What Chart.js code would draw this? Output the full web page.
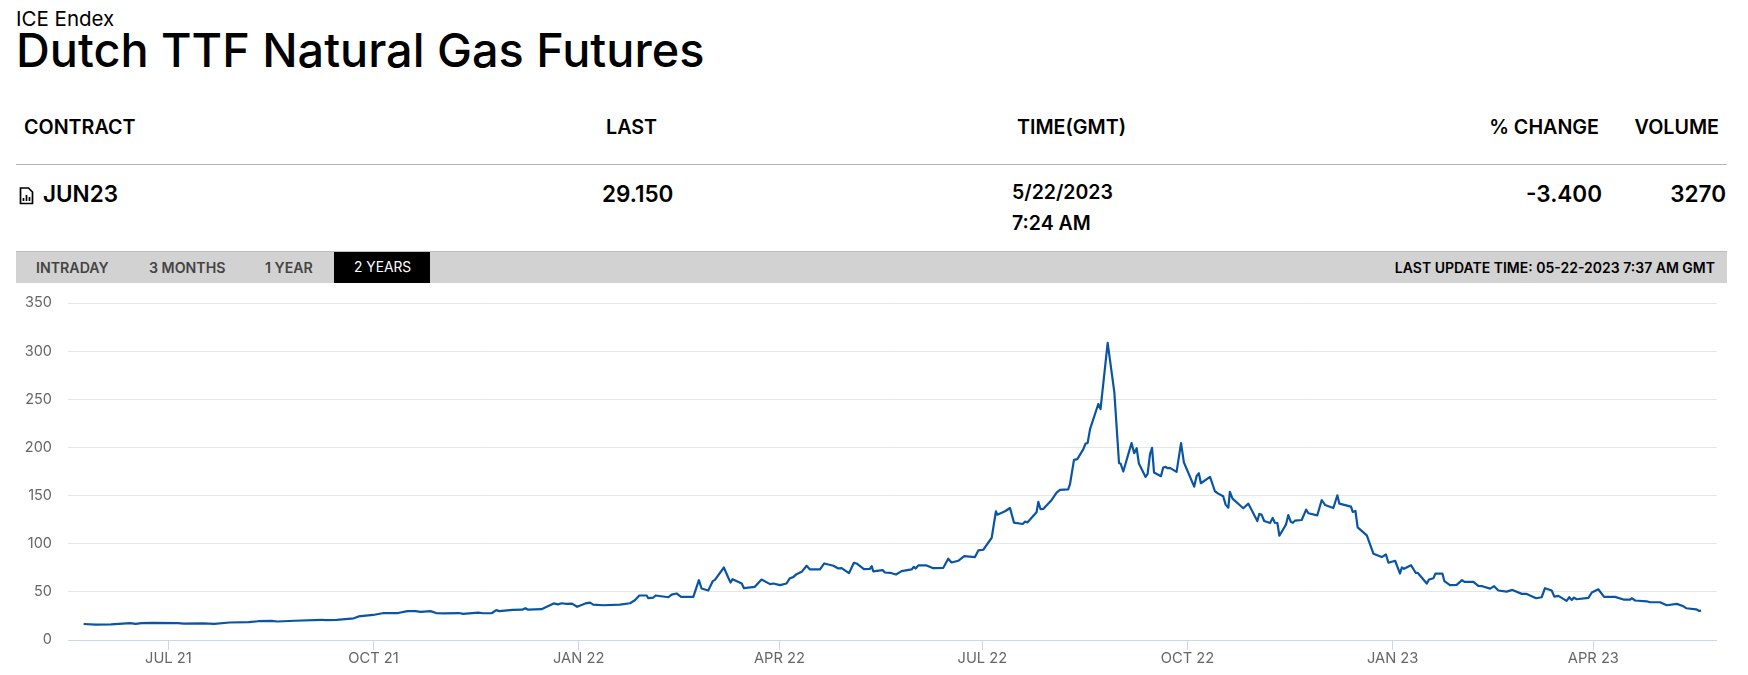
<!DOCTYPE html>
<html>
<head>
<meta charset="utf-8">
<title>Dutch TTF Natural Gas Futures</title>
<script src="https://cdn.jsdelivr.net/npm/chart.js@4"></script>
<style>
    html, body { margin: 0; padding: 0; background: #fff; width: 1748px; height: 675px; overflow: hidden; }
    body { font-family: Inter, "Liberation Sans", sans-serif; color: #000; position: relative; }
    .t { position: absolute; line-height: 1; white-space: nowrap; }
    .head { font-size: 19.7px; font-weight: 600; top: 118px; }
    .cell { font-size: 22.5px; font-weight: 600; top: 183px; }
    .date { font-size: 19.5px; font-weight: 600; }
    .tab { font-size: 14.2px; font-weight: 600; top: 260.500px; color: #444; }
    #rule { position: absolute; left: 16px; top: 164px; width: 1711px; height: 1px; background: #b4b4b4; }
    #bar { position: absolute; left: 16px; top: 251px; width: 1711px; height: 32px; background: #d2d2d2; border-top: 1px solid #bdbdbd; box-sizing: border-box; }
    #active { position: absolute; left: 334px; top: 252px; width: 96px; height: 31px; background: #000; }
    #icon { position: absolute; left: 19px; top: 187px; }
    #chart { position: absolute; left: 0; top: 284px; }
</style>
</head>
<body>
<div class="t" style="left:16px;top:9px;font-size:20.500px;">ICE Endex</div>
<div class="t" style="left:16px;top:27px;font-size:46.800px;font-weight:500;">Dutch TTF Natural Gas Futures</div>

<div class="t head" style="left:24px;">CONTRACT</div>
<div class="t head" style="left:606px;">LAST</div>
<div class="t head" style="left:1017px;">TIME(GMT)</div>
<div class="t head" style="right:149px;">% CHANGE</div>
<div class="t head" style="right:29px;">VOLUME</div>
<div id="rule"></div>

<svg id="icon" width="15" height="18" viewBox="0 0 15 18" fill="none" stroke="#000" stroke-width="1.7">
    <path d="M1.5 1h8l4 4v11.500h-12z"/>
    <path d="M4.500 14v-3M7.500 14v-6M10.500 14v-4"/>
</svg>
<div class="t cell" style="left:43px;">JUN23</div>
<div class="t cell" style="left:602px;">29.150</div>
<div class="t date" style="left:1012px;top:183px;">5/22/2023</div>
<div class="t date" style="left:1012px;top:214px;">7:24 AM</div>
<div class="t cell" style="right:146px;">-3.400</div>
<div class="t cell" style="right:22px;">3270</div>

<div id="bar"></div>
<div id="active"></div>
<div class="t tab" style="left:36px;">INTRADAY</div>
<div class="t tab" style="left:149px;">3 MONTHS</div>
<div class="t tab" style="left:265px;">1 YEAR</div>
<div class="t tab" style="left:354px;color:#fff;font-weight:400;font-size:13.800px;">2 YEARS</div>
<div class="t tab" style="right:33px;color:#000;font-size:14px;">LAST UPDATE TIME: 05-22-2023 7:37 AM GMT</div>

<canvas id="chart" width="1748" height="391"></canvas>

<script>
// x values are days counted from 17 May 2021, the left end of the axis
const days = [
    7, 12.4, 19.3, 22.7, 27.8, 30.4, 33, 38.1, 49.3, 51.9, 60.4, 65.6, 72.5, 81, 85.3, 91.3, 93.9, 101.6, 113.6, 115.4,
    120.5, 128.2, 130.3, 136.8, 141.6, 148, 152.2, 155.7, 158.3, 162.5, 165.1, 168.6, 175.4, 177.1, 184, 186, 190, 192, 193.4, 199.4,
    203.7, 205.1, 206.3, 212.3, 217.8, 219.7, 221.4, 223.5, 226, 228.3, 232, 234.1, 235.5, 240, 247.5, 252, 254.2, 256.2, 259.5, 260.2,
    262.5, 263.5, 269.2, 270.7, 272.9, 274.9, 280.4, 282.9, 284.1, 287.1, 289.1, 290.1, 294.1, 296.1, 297.1, 298, 302.1, 303.1, 308, 311,
    314.8, 316.3, 319.3, 322.2, 323.7, 325.2, 326.7, 329, 331.2, 332.7, 337.2, 339.1, 343.2, 345.4, 346.9, 350.2, 352.4, 353.6, 356.9, 359.6,
    360.4, 361.1, 365.3, 366.3, 368.6, 371.3, 373.8, 378.3, 379.3, 380.1, 381.3, 385, 388, 392.5, 394.7, 396.2, 399.2, 401.9, 406.7, 408.2,
    410.4, 414.2, 416.1, 416.7, 420.2, 422.4, 424.2, 428.1, 429.1, 430.3, 434.3, 435.1, 436.1, 437.3, 441.1, 443.3, 444.8, 448.5, 449.3, 451.1,
    452.6, 455.3, 456.3, 457.2, 458.3, 462, 463, 466.2, 469.2, 471.3, 472, 473.2, 476.9, 478.1, 479.2, 480.2, 483.2, 484.1, 485.2, 486.1,
    487, 490.1, 491.1, 492.2, 493.1, 494.1, 497.1, 499.1, 500.4, 505, 506.1, 507.1, 508, 512.1, 514.3, 515.8, 518, 519.1, 520.3, 521,
    522.2, 525.5, 527, 529.3, 533.3, 534.2, 535.2, 536.4, 539, 540.2, 541.2, 542.3, 543.2, 546.2, 547.2, 548.3, 549.2, 550.2, 553.2, 555.2,
    556.2, 560.2, 562.2, 563.7, 567.4, 569.2, 570.1, 575.3, 576.1, 577.3, 578.3, 582.4, 585.4, 589.1, 591, 592.1, 595.1, 597.3, 598.1, 599.1,
    602.2, 604.3, 605.2, 609.3, 610.3, 612.3, 613.2, 616.3, 617.2, 619.7, 622.7, 625.1, 626.2, 630.2, 632.4, 634.2, 637.7, 639.5, 641.4, 645.1,
    647.7, 651.9, 654.1, 658.3, 660.8, 662.3, 665.3, 666.5, 668.3, 672, 673.2, 674.3, 675.3, 676.5, 681.8, 683.3, 686.2, 688.8, 693.7, 697.5,
    700.5, 701.2, 702.7, 707.9, 709.4, 713.9, 716.9, 721.4, 724.4, 725.6, 730.1, 731.5, 732.3
];
const prices = [
    16.6, 16, 16.2, 16.8, 17.5, 16.8, 17.5, 17.8, 17.6, 17, 17.2, 16.8, 18.2, 18.6, 19.5, 19.8, 19.2, 20, 21, 20.6,
    21, 22.5, 24.5, 26, 28, 28, 30, 30, 29.3, 30, 28, 27.6, 28, 27.2, 28.5, 27.8, 27.8, 31, 30, 31.3,
    31.5, 33, 31.5, 32, 38, 37, 38.2, 37.5, 37.8, 34.5, 38, 38.8, 36.8, 36.1, 36.8, 38.2, 41.3, 46.2, 46.2, 43.4,
    44.1, 46.2, 44.4, 47.2, 48.3, 44.8, 44.8, 62.1, 53.5, 51.4, 61.1, 62.5, 75.3, 64.6, 59.7, 63.2, 58.7, 53.8, 55.2, 62.8,
    58, 58.7, 57, 58.7, 64.2, 65.3, 68.4, 70.8, 77.1, 73.3, 73.3, 79.5, 77.1, 74.3, 74.6, 69.4, 80.2, 79.5, 73.6, 73.9,
    76.7, 71.2, 72.6, 70.1, 69.8, 68, 71.5, 73.3, 76, 74.3, 77.4, 77.4, 74.6, 75, 84.4, 80.5, 82.3, 87.1, 86.1, 93,
    93.7, 106.2, 133.7, 130.2, 133.7, 137.1, 121.9, 120.5, 122.9, 122.2, 132.6, 143.4, 135.8, 136.1, 145.5, 153.1, 155.9, 156.5, 161.8, 187.1,
    187.8, 198.2, 204.1, 204.5, 219, 245.1, 239.9, 308.6, 257.2, 183.6, 183.3, 175, 204.5, 194, 199.2, 183.3, 169.4, 172.2, 193, 199.6,
    173.9, 170.1, 179.1, 179.8, 178.4, 178.8, 174.6, 204.5, 184.3, 159.3, 170.4, 173.2, 162.8, 169.4, 154.5, 152, 149.3, 140.6, 137.4, 153.8,
    146.8, 139.9, 136.8, 141.6, 123.6, 130.9, 130.2, 123.6, 121.5, 126.7, 121.8, 121.5, 108.3, 120.1, 129.8, 122.9, 121.8, 123.9, 124.6, 135.4,
    131.6, 129.5, 145.4, 140.2, 137.1, 150.3, 141.6, 138.5, 133, 134, 117, 108.6, 89.5, 86.1, 88.8, 80.2, 82.3, 69, 75.3, 73.9,
    77.7, 69.8, 69.8, 58.6, 62.8, 64.2, 69, 69, 61.1, 56.9, 57.3, 62.1, 60.4, 60.4, 56.2, 55.9, 53.4, 55.9, 51.4, 50.3,
    52, 47.9, 47.9, 43.4, 44.4, 53.8, 51.4, 45.1, 45.8, 40.6, 44.4, 41.6, 44, 42.3, 43.7, 49.3, 52.7, 44.8, 44.8, 42,
    42, 43.4, 41, 40.2, 39.2, 39.2, 36.1, 37.5, 35, 33, 31.9, 30.2, 30.5
];
const tickDays = [45, 137, 229, 319, 410, 502, 594, 684];
const tickLabels = ['JUL 21', 'OCT 21', 'JAN 22', 'APR 22', 'JUL 22', 'OCT 22', 'JAN 23', 'APR 23'];

new Chart(document.getElementById('chart').getContext('2d'), {
    type: 'line',
    data: {
        datasets: [{
            data: days.map((d, i) => ({ x: d, y: prices[i] })),
            borderColor: '#0a55a3',
            borderWidth: 2.2,
            borderJoinStyle: 'round',
            pointRadius: 0,
            tension: 0,
            fill: false
        }]
    },
    options: {
        responsive: false,
        animation: false,
        parsing: false,
        layout: { padding: { top: 19, right: 31.3, left: 0, bottom: 0 } },
        plugins: { legend: { display: false }, tooltip: { enabled: false }, title: { display: false } },
        scales: {
            x: {
                type: 'linear',
                min: 0,
                max: 739.3,
                afterBuildTicks: scale => { scale.ticks = tickDays.map(value => ({ value })); },
                afterFit: scale => { scale.height = 35; },
                border: { color: '#ccd6eb' },
                grid: { drawOnChartArea: false, tickColor: '#ccd6eb', tickLength: 10 },
                ticks: {
                    autoSkip: false,
                    maxRotation: 0,
                    padding: 0,
                    color: '#666',
                    font: { family: 'Inter', size: 14.7 },
                    callback: (value, index) => tickLabels[index]
                }
            },
            y: {
                min: 0,
                max: 350,
                // the tick padding would otherwise push the plot area down
                afterFit: scale => { scale.width = 68; scale.paddingTop = 0; scale.paddingBottom = 0; },
                border: { display: false },
                grid: { color: ctx => ctx.tick.value === 0 ? '#ccd6eb' : '#e6e6e6', drawTicks: false },
                ticks: {
                    stepSize: 50,
                    padding: 16,
                    color: '#666',
                    font: { family: 'Inter', size: 14.5 }
                }
            }
        }
    }
});
</script>
</body>
</html>
